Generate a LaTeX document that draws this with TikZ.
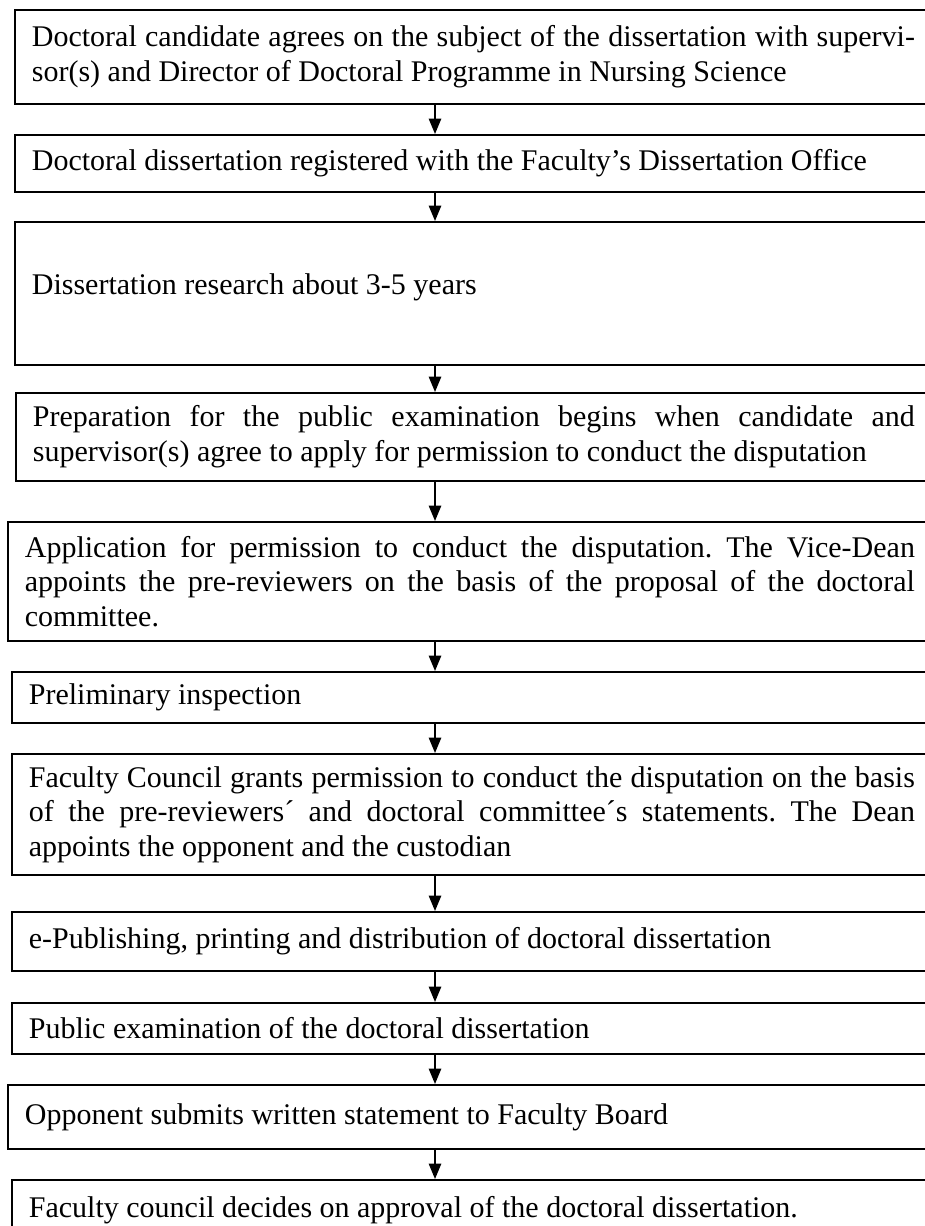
\documentclass[tikz,border=0pt]{standalone}
\usepackage{fontspec}
\setmainfont{Liberation Serif}
\usetikzlibrary{arrows.meta}
\setlength{\parindent}{0pt}
\tolerance=10000
\hbadness=10000
\frenchspacing
\newcommand\jl[1]{\makebox[\hsize][s]{#1}\newline}
\tikzset{
  stepbox/.style={draw, line width=0.7pt, anchor=north west, inner xsep=6.8pt, inner ysep=1pt,
    align=justify, font=\fontsize{12}{13.8}\selectfont},
  arr/.style={line width=0.6pt, -{Triangle[length=6.2pt,width=5pt]}}
}
\begin{document}
\begin{tikzpicture}[x=0.4pt,y=-0.4pt]
\useasboundingbox (0,0) rectangle (925,1226);
\clip (0,0) rectangle (925,1226);
\coordinate (ax) at (435,0);
\node[stepbox, text width=353.2pt, minimum height=37.6pt] (b1) at (14,9)
  {\jl{Doctoral candidate agrees on the subject of the dissertation with supervi-}sor(s) and Director of Doctoral Programme in Nursing Science};
\node[stepbox, text width=353.2pt, minimum height=22.8pt] (b2) at (14,134)
  {Doctoral dissertation registered with the Faculty’s Dissertation Office};
\node[stepbox, text width=353.2pt, minimum height=57.2pt, inner ysep=0pt, text height=29pt, text depth=28.2pt] (b3) at (14,221)
  {Dissertation research about 3-5 years};
\node[stepbox, text width=352.8pt, minimum height=35.2pt] (b4) at (15,392)
  {\jl{Preparation for the public examination begins when candidate and}supervisor(s) agree to apply for permission to conduct the disputation};
\node[stepbox, text width=356pt, minimum height=47.6pt] (b5) at (7,521)
  {\jl{Application for permission to conduct the disputation. The Vice-Dean}\jl{appoints the pre-reviewers on the basis of the proposal of the doctoral}committee.};
\node[stepbox, text width=354.4pt, minimum height=20.4pt] (b6) at (11,671)
  {Preliminary inspection};
\node[stepbox, text width=354.4pt, minimum height=48.4pt] (b7) at (11,753)
  {\jl{Faculty Council grants permission to conduct the disputation on the basis}\jl{of the pre-reviewers´ and doctoral committee´s statements. The Dean}appoints the opponent and the custodian};
\node[stepbox, text width=354.4pt, minimum height=23.6pt] (b8) at (11,911)
  {e-Publishing, printing and distribution of doctoral dissertation};
\node[stepbox, text width=354.4pt, minimum height=20.4pt] (b9) at (11,1002)
  {Public examination of the doctoral dissertation};
\node[stepbox, text width=356pt, minimum height=25.6pt] (b10) at (7,1084)
  {Opponent submits written statement to Faculty Board};
\node[stepbox, text width=354.4pt, minimum height=24pt] (b11) at (11,1179)
  {Faculty council decides on approval of the doctoral dissertation.};
\draw[arr] (b1.south -| ax) -- (b2.north -| ax);
\draw[arr] (b2.south -| ax) -- (b3.north -| ax);
\draw[arr] (b3.south -| ax) -- (b4.north -| ax);
\draw[arr] (b4.south -| ax) -- (b5.north -| ax);
\draw[arr] (b5.south -| ax) -- (b6.north -| ax);
\draw[arr] (b6.south -| ax) -- (b7.north -| ax);
\draw[arr] (b7.south -| ax) -- (b8.north -| ax);
\draw[arr] (b8.south -| ax) -- (b9.north -| ax);
\draw[arr] (b9.south -| ax) -- (b10.north -| ax);
\draw[arr] (b10.south -| ax) -- (b11.north -| ax);
\end{tikzpicture}
\end{document}
